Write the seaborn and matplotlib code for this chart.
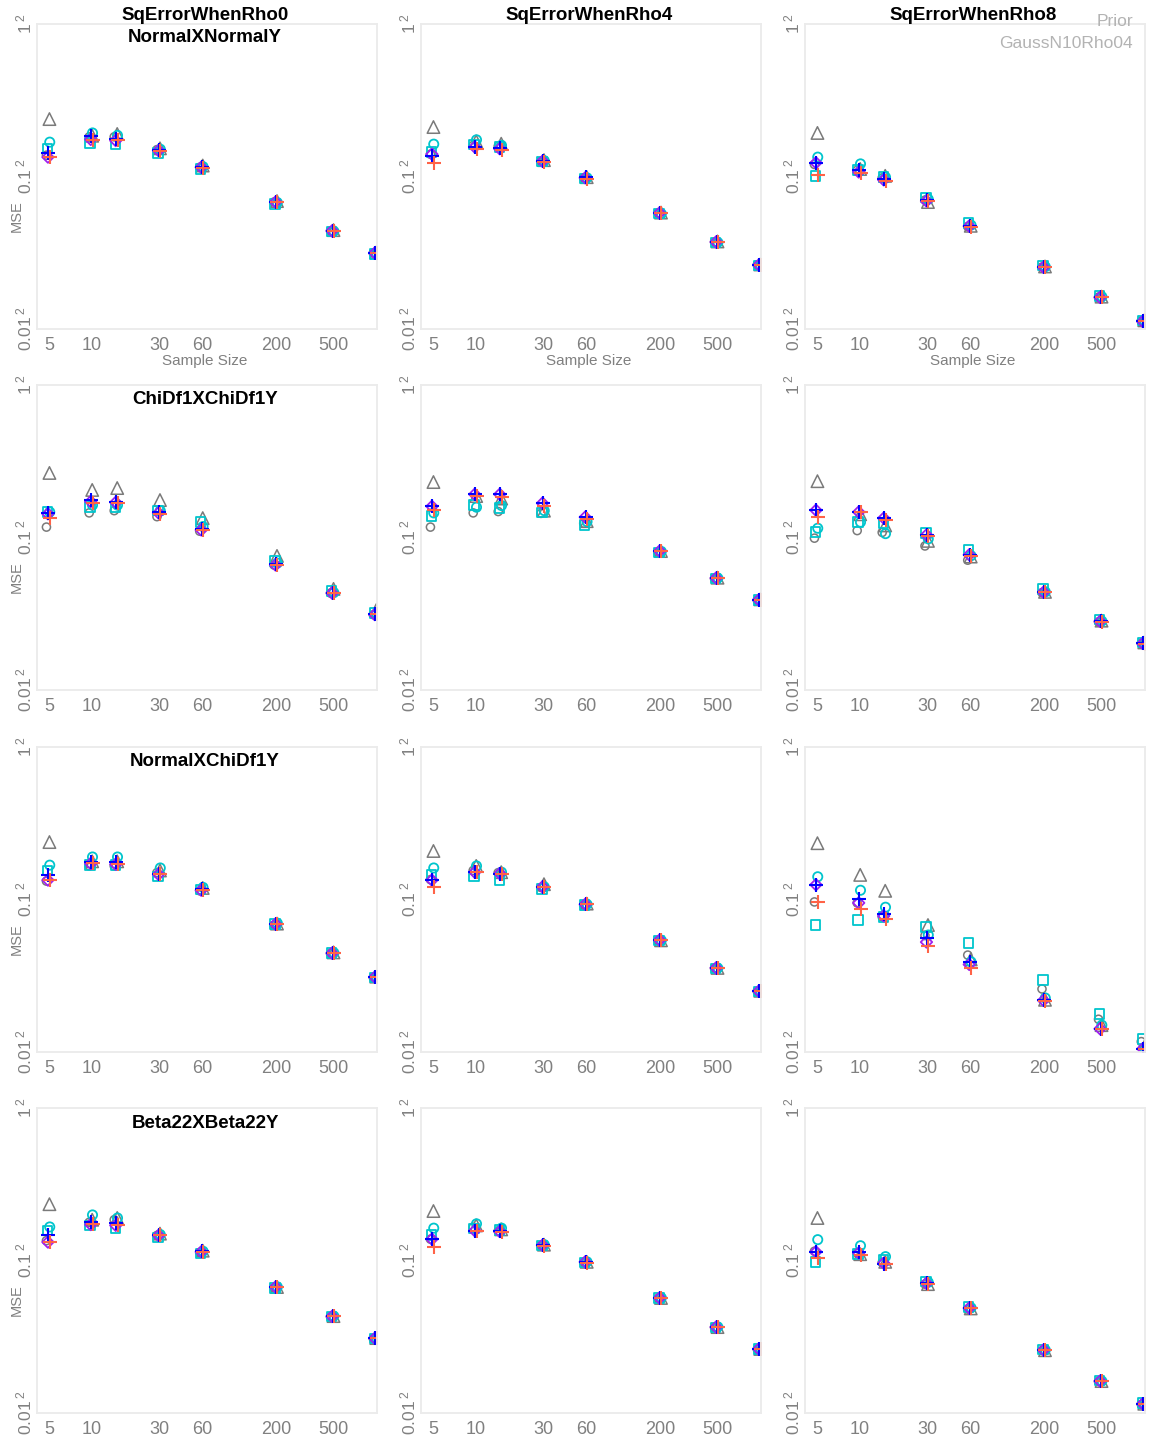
import numpy as np
import pandas as pd
import matplotlib
matplotlib.use("Agg")
import matplotlib.pyplot as plt
import seaborn as sns

# ---------------------------------------------------------------- data
sample_sizes = [5, 10, 15, 30, 60, 200, 500, 1000]
rho_titles = ["SqErrorWhenRho0", "SqErrorWhenRho4", "SqErrorWhenRho8"]
dist_titles = ["NormalXNormalY", "ChiDf1XChiDf1Y", "NormalXChiDf1Y", "Beta22XBeta22Y"]
x_ticks = [5, 10, 30, 60, 200, 500]
x_tick_labels = ["5", "10", "30", "60", "200", "500"]
y_ticks = [0.01, 0.1, 1]
y_tick_labels = ["0.01", "0.1", "1"]
prior_lines = ["Prior", "GaussN10Rho04"]

# MSE per estimator; 12 panels in row order (distribution rows x rho columns),
# one value per sample size
mse_gray_circle = [
    [0.138, 0.182, 0.182, 0.150, 0.115, 0.0680, 0.0440, 0.0315],
    [0.140, 0.160, 0.158, 0.126, 0.098, 0.0577, 0.0372, 0.0263],
    [0.120, 0.110, 0.098, 0.070, 0.047, 0.0255, 0.0162, 0.0113],
    [0.117, 0.145, 0.150, 0.137, 0.110, 0.0660, 0.0432, 0.0312],
    [0.117, 0.145, 0.148, 0.144, 0.124, 0.0800, 0.0538, 0.0388],
    [0.099, 0.111, 0.108, 0.088, 0.071, 0.0435, 0.0280, 0.0202],
    [0.132, 0.166, 0.166, 0.150, 0.114, 0.0680, 0.0443, 0.0308],
    [0.135, 0.155, 0.150, 0.120, 0.092, 0.0538, 0.0354, 0.0250],
    [0.0964, 0.095, 0.077, 0.058, 0.0432, 0.0259, 0.0164, 0.0117],
    [0.135, 0.178, 0.185, 0.146, 0.113, 0.0660, 0.0428, 0.0308],
    [0.138, 0.165, 0.156, 0.125, 0.097, 0.0565, 0.0365, 0.0262],
    [0.115, 0.112, 0.097, 0.070, 0.048, 0.0257, 0.0161, 0.0114],
]
mse_gray_triangle = [
    [0.238, 0.185, 0.190, 0.153, 0.118, 0.0690, 0.0445, 0.0318],
    [0.211, 0.170, 0.164, 0.128, 0.099, 0.0580, 0.0375, 0.0265],
    [0.193, 0.112, 0.101, 0.068, 0.0475, 0.0257, 0.0163, 0.0114],
    [0.265, 0.205, 0.211, 0.176, 0.134, 0.0757, 0.0460, 0.0334],
    [0.231, 0.187, 0.180, 0.150, 0.128, 0.0815, 0.0545, 0.0393],
    [0.234, 0.142, 0.120, 0.095, 0.075, 0.0440, 0.0285, 0.0205],
    [0.238, 0.178, 0.178, 0.155, 0.119, 0.0695, 0.0450, 0.0312],
    [0.208, 0.166, 0.151, 0.126, 0.094, 0.0540, 0.0356, 0.0252],
    [0.234, 0.145, 0.114, 0.068, 0.0405, 0.0220, 0.0150, 0.0108],
    [0.234, 0.185, 0.190, 0.150, 0.116, 0.0670, 0.0432, 0.0310],
    [0.211, 0.170, 0.160, 0.127, 0.098, 0.0568, 0.0366, 0.0263],
    [0.190, 0.110, 0.098, 0.070, 0.0485, 0.0258, 0.0162, 0.0115],
]
mse_cyan_circle = [
    [0.168, 0.193, 0.186, 0.151, 0.116, 0.0675, 0.0438, 0.0313],
    [0.163, 0.174, 0.160, 0.127, 0.098, 0.0570, 0.0370, 0.0262],
    [0.134, 0.121, 0.099, 0.071, 0.048, 0.0256, 0.0163, 0.0113],
    [0.147, 0.163, 0.163, 0.150, 0.118, 0.0680, 0.0435, 0.0315],
    [0.145, 0.158, 0.162, 0.150, 0.127, 0.0810, 0.0542, 0.0390],
    [0.115, 0.126, 0.106, 0.098, 0.076, 0.0440, 0.0283, 0.0203],
    [0.168, 0.190, 0.190, 0.161, 0.120, 0.0700, 0.0448, 0.0310],
    [0.161, 0.166, 0.151, 0.121, 0.093, 0.0540, 0.0355, 0.0251],
    [0.141, 0.115, 0.089, 0.0585, 0.039, 0.0226, 0.0150, 0.0106],
    [0.166, 0.199, 0.190, 0.148, 0.115, 0.0672, 0.0432, 0.0310],
    [0.163, 0.174, 0.163, 0.127, 0.098, 0.0570, 0.0367, 0.0264],
    [0.137, 0.125, 0.106, 0.072, 0.049, 0.0259, 0.0162, 0.0115],
]
mse_cyan_square = [
    [0.153, 0.166, 0.163, 0.143, 0.112, 0.0660, 0.0435, 0.0310],
    [0.145, 0.162, 0.156, 0.125, 0.097, 0.0570, 0.0370, 0.0260],
    [0.101, 0.110, 0.099, 0.073, 0.0495, 0.0260, 0.0165, 0.0114],
    [0.147, 0.158, 0.158, 0.150, 0.126, 0.0700, 0.0445, 0.0320],
    [0.138, 0.163, 0.156, 0.146, 0.121, 0.0800, 0.0540, 0.0388],
    [0.109, 0.126, 0.123, 0.107, 0.083, 0.0460, 0.0290, 0.0205],
    [0.155, 0.168, 0.168, 0.141, 0.116, 0.0690, 0.0445, 0.0308],
    [0.145, 0.141, 0.134, 0.117, 0.092, 0.0538, 0.0354, 0.0250],
    [0.068, 0.0734, 0.077, 0.066, 0.0519, 0.0297, 0.0178, 0.0122],
    [0.157, 0.170, 0.163, 0.141, 0.111, 0.0660, 0.0428, 0.0308],
    [0.147, 0.162, 0.158, 0.125, 0.097, 0.0566, 0.0365, 0.0262],
    [0.098, 0.110, 0.101, 0.073, 0.0495, 0.0260, 0.0163, 0.0116],
]
mse_purple_diamond = [
    [0.134, 0.175, 0.172, 0.148, 0.115, 0.0680, 0.0440, 0.0315],
    [0.140, 0.156, 0.152, 0.126, 0.098, 0.0577, 0.0372, 0.0263],
    [0.123, 0.107, 0.095, 0.069, 0.0473, 0.0254, 0.0161, 0.0112],
    [0.143, 0.172, 0.170, 0.145, 0.112, 0.0660, 0.0432, 0.0312],
    [0.160, 0.192, 0.192, 0.168, 0.136, 0.0815, 0.0542, 0.0390],
    [0.151, 0.147, 0.134, 0.104, 0.077, 0.0438, 0.0282, 0.0202],
    [0.134, 0.172, 0.170, 0.146, 0.115, 0.0690, 0.0445, 0.0310],
    [0.134, 0.151, 0.148, 0.121, 0.093, 0.0542, 0.0356, 0.0251],
    [0.125, 0.095, 0.078, 0.0526, 0.0375, 0.0218, 0.0142, 0.0105],
    [0.132, 0.172, 0.170, 0.146, 0.114, 0.0670, 0.0430, 0.0309],
    [0.138, 0.157, 0.155, 0.126, 0.098, 0.0568, 0.0366, 0.0263],
    [0.114, 0.112, 0.096, 0.071, 0.0488, 0.0259, 0.0162, 0.0115],
]
mse_blue_plus = [
    [0.143, 0.184, 0.176, 0.149, 0.116, 0.0680, 0.0442, 0.0315],
    [0.136, 0.156, 0.154, 0.127, 0.099, 0.0580, 0.0373, 0.0264],
    [0.123, 0.110, 0.097, 0.070, 0.0473, 0.0255, 0.0162, 0.0113],
    [0.145, 0.176, 0.172, 0.147, 0.114, 0.0670, 0.0435, 0.0315],
    [0.160, 0.192, 0.192, 0.168, 0.136, 0.0815, 0.0542, 0.0390],
    [0.151, 0.147, 0.134, 0.104, 0.077, 0.0438, 0.0282, 0.0202],
    [0.145, 0.176, 0.176, 0.148, 0.117, 0.0690, 0.0446, 0.0310],
    [0.134, 0.151, 0.148, 0.121, 0.093, 0.0542, 0.0356, 0.0251],
    [0.125, 0.101, 0.080, 0.056, 0.039, 0.0220, 0.0142, 0.0105],
    [0.147, 0.180, 0.175, 0.147, 0.115, 0.0670, 0.0432, 0.0310],
    [0.138, 0.157, 0.155, 0.126, 0.098, 0.0568, 0.0366, 0.0263],
    [0.114, 0.114, 0.095, 0.071, 0.0488, 0.0259, 0.0162, 0.0115],
]
mse_red_plus = [
    [0.134, 0.173, 0.174, 0.147, 0.114, 0.0678, 0.0438, 0.0314],
    [0.123, 0.152, 0.149, 0.125, 0.097, 0.0575, 0.0370, 0.0262],
    [0.102, 0.105, 0.094, 0.069, 0.047, 0.0254, 0.0161, 0.0112],
    [0.134, 0.168, 0.168, 0.142, 0.112, 0.0665, 0.0433, 0.0313],
    [0.152, 0.186, 0.185, 0.162, 0.133, 0.0810, 0.0540, 0.0388],
    [0.136, 0.146, 0.130, 0.102, 0.076, 0.0436, 0.0281, 0.0201],
    [0.134, 0.174, 0.172, 0.147, 0.116, 0.0688, 0.0444, 0.0309],
    [0.121, 0.151, 0.146, 0.120, 0.093, 0.0540, 0.0355, 0.0250],
    [0.0964, 0.0867, 0.0745, 0.0495, 0.0356, 0.0215, 0.0141, 0.0104],
    [0.132, 0.174, 0.172, 0.146, 0.114, 0.0668, 0.0430, 0.0309],
    [0.123, 0.155, 0.153, 0.125, 0.097, 0.0566, 0.0365, 0.0262],
    [0.104, 0.108, 0.095, 0.070, 0.0485, 0.0258, 0.0161, 0.0114],
]

# ---------------------------------------------------------------- styles
# (name, values, marker, colour, size, linewidth, hollow, x-dodge in px)
series = [
    ("gray_circle", mse_gray_circle, "o", "#7a7a7a", 34, 1.1, True, -2.5),
    ("gray_triangle", mse_gray_triangle, "^", "#7a7a7a", 80, 1.1, True, 0.5),
    ("cyan_circle", mse_cyan_circle, "o", "#00c5cd", 44, 1.3, True, 0.8),
    ("cyan_square", mse_cyan_square, "s", "#00c5cd", 46, 1.3, True, -1.5),
    ("purple_diamond", mse_purple_diamond, "D", "#a020f0", 34, 1.3, True, -1.0),
    ("blue_plus", mse_blue_plus, "+", "#0000ff", 110, 1.5, False, -0.5),
    ("red_plus", mse_red_plus, "+", "#ff6347", 110, 1.5, False, 1.0),
]

rows = []
for name, vals, *_ in series:
    for p, panel_vals in enumerate(vals):
        for n, v in zip(sample_sizes, panel_vals):
            rows.append({"series": name, "panel": p, "n": n, "mse": v})
df = pd.DataFrame(rows)

# ---------------------------------------------------------------- layout
W, H = 1155, 1441
sns.set_theme(style="white")
plt.rcParams["font.family"] = ["Liberation Sans", "DejaVu Sans"]
plt.rcParams["mathtext.fontset"] = "custom"
plt.rcParams["mathtext.rm"] = "Liberation Sans"

fig = plt.figure(figsize=(W / 100, H / 100), dpi=100)
fig.patch.set_facecolor("white")

col_left = [37, 421, 805]
col_width = 340
row_top = [24, 385, 747, 1108]
row_height = 305
px_per_decade = 142.0
tick_grey = "#808080"

for r in range(4):
    for c in range(3):
        p = r * 3 + c
        ax = fig.add_axes([col_left[c] / W, 1 - (row_top[r] + row_height) / H,
                           col_width / W, row_height / H])
        ax.set_xscale("log")
        ax.set_yscale("log")
        for name, vals, marker, color, size, lw, hollow, dodge in series:
            sub = df[(df["series"] == name) & (df["panel"] == p)].copy()
            sub["n_pos"] = sub["n"] * 10 ** (dodge / px_per_decade)
            kw = dict(marker=marker, s=size, linewidth=lw, color=color)
            if hollow:
                kw.update(facecolors="none", edgecolor=color)
            sns.scatterplot(data=sub, x="n_pos", y="mse", ax=ax, legend=False, **kw)
        ax.set_xlim(4.12, 1020)
        ax.set_ylim(0.01, 1)
        ax.minorticks_off()
        ax.set_xticks(x_ticks)
        ax.set_xticklabels(x_tick_labels)
        ax.set_yticks(y_ticks)
        ax.set_yticklabels([r"$\mathregular{%s\,^{2}}$" % t for t in y_tick_labels])
        ax.tick_params(axis="x", length=0, pad=6, labelsize=13, labelcolor=tick_grey)
        ax.tick_params(axis="y", length=0, pad=2, labelsize=12.5, labelcolor=tick_grey,
                       labelrotation=90)
        for lab in ax.get_yticklabels():
            lab.set_verticalalignment("center")
        ax.set_xlabel("")
        ax.set_ylabel("")
        for sp in ax.spines.values():
            sp.set_color("#ebebeb")
            sp.set_linewidth(1.3)
        ax.grid(False)


def fig_text(x, y, s, **kw):
    fig.text(x / W, 1 - y / H, s, **kw)


# column headings (rho) and distribution labels
for c, t in enumerate(rho_titles):
    fig_text(col_left[c] + col_width / 2 - 2, 16, t, ha="center", va="center",
             fontsize=13.5, fontweight="bold", color="black")
dist_y = [38, 400, 762, 1123]
for r, t in enumerate(dist_titles):
    fig_text(col_left[0] + col_width / 2 - 2, dist_y[r], t, ha="center", va="center",
             fontsize=13.5, fontweight="bold", color="black")

# axis titles
for c in range(3):
    fig_text(col_left[c] + col_width / 2 - 2, 361, "Sample Size", ha="center",
             va="center", fontsize=11, color=tick_grey)
for r in range(4):
    fig_text(17, row_top[r] + 192, "MSE", ha="center", va="center", rotation=90,
             fontsize=10.5, color=tick_grey)

# prior annotation
fig_text(1133, 21, prior_lines[0], ha="right", va="center", fontsize=12.5, color="#b3b3b3")
fig_text(1133, 44, prior_lines[1], ha="right", va="center", fontsize=12.5, color="#b3b3b3")

fig.savefig("out.png", dpi=100, facecolor="white")
